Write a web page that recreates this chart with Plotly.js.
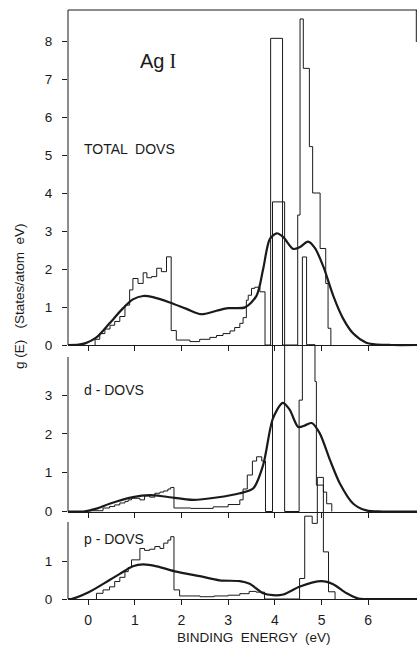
<!DOCTYPE html>
<html>
<head>
<meta charset="utf-8">
<script src="https://cdn.plot.ly/plotly-3.0.1.min.js"></script>
<style>
  html, body { margin: 0; padding: 0; background: #fff; }
  #chart { width: 419px; height: 645px; }
</style>
</head>
<body>
<div id="chart"></div>
<script>
// ---------------- DATA ----------------
const xTicks = [0, 1, 2, 3, 4, 5, 6];
const totalTicks = [0, 1, 2, 3, 4, 5, 6, 7, 8];
const dTicks = [0, 1, 2, 3];
const pTicks = [0, 1];

const compoundLabel = 'Ag<span style="font-family:Liberation Serif"> I</span>';
const panelLabels = ['TOTAL  DOVS', 'd - DOVS', 'p - DOVS'];
const xTitle = 'BINDING  ENERGY  (eV)';
const yTitle = 'g (E)   (States/atom  eV)';

// Histograms: bin left edges (eV) and bin values; last value 0 closes the histogram
const totalEdges = [0.15, 0.25, 0.36, 0.47, 0.57, 0.68, 0.79, 0.89, 0.96, 1.07, 1.18, 1.26, 1.36, 1.47, 1.57, 1.68,
  1.78, 1.89, 2.18, 2.39, 2.61, 2.75, 2.89, 3.04, 3.14, 3.25, 3.32, 3.39, 3.43, 3.5, 3.57, 3.68, 3.79,
  3.91, 4.165, 4.49, 4.54, 4.61, 4.74, 4.81, 4.97, 5.09, 5.14, 5.2];
const totalVals = [0.15, 0.3, 0.42, 0.52, 0.62, 0.75, 1.05, 1.45, 1.75, 1.62, 1.9, 1.77, 1.8, 2.02, 1.93, 2.32,
  0.38, 0.13, 0.09, 0.15, 0.2, 0.25, 0.3, 0.37, 0.46, 0.57, 0.72, 1.18, 1.31, 1.49, 1.52, 1.4, 0,
  8.07, 0, 3.42, 8.58, 7.28, 5.22, 4.0, 2.54, 1.62, 0.44, 0];

const dEdges = [0.04, 0.32, 0.46, 0.57, 0.68, 0.79, 0.86, 0.93, 1.11, 1.21, 1.32, 1.43, 1.54, 1.62, 1.71, 1.77,
  1.84, 2.2, 2.68, 3.0, 3.25, 3.32, 3.41, 3.52, 3.61, 3.72, 3.8,
  3.95, 4.21, 4.52, 4.59, 4.68, 4.86, 4.89, 5.04, 5.11, 5.22];
const dVals = [0.02, 0.09, 0.13, 0.17, 0.22, 0.26, 0.3, 0.34, 0.3, 0.4, 0.37, 0.47, 0.5, 0.53, 0.58, 0.62,
  0.09, 0.08, 0.12, 0.18, 0.3, 0.58, 0.94, 1.3, 1.41, 1.3, 0,
  7.98, 0, 2.87, 6.56, 4.3, 3.35, 0.68, 0.5, 0.2, 0];

const pEdges = [0.18, 0.32, 0.46, 0.57, 0.68, 0.79, 0.86, 0.93, 1.11, 1.21, 1.32, 1.43, 1.54, 1.62, 1.71, 1.77,
  1.84, 1.96, 2.4, 2.7, 3.0, 3.25, 3.45, 3.6, 3.78,
  4.53, 4.64, 4.8, 4.91, 5.04, 5.15, 5.29];
const pVals = [0.15, 0.24, 0.32, 0.46, 0.57, 0.72, 0.83, 1.03, 1.33, 1.28, 1.31, 1.38, 1.33, 1.47, 1.55, 1.64,
  0.24, 0.08, 0.06, 0.08, 0.1, 0.14, 0.2, 0.18, 0,
  0.54, 2.18, 1.99, 3.2, 1.24, 0.19, 0];

// Broadened (smooth) curves
const totalCurveE = [-0.43, -0.2, -0.05, 0.18, 0.46, 0.75, 0.96, 1.18, 1.39, 1.75, 2.11, 2.42, 2.75, 3.0, 3.36, 3.61,
  3.75, 3.89, 4.04, 4.18, 4.39, 4.54, 4.71, 4.86, 5.04, 5.25, 5.46, 5.68, 5.96, 6.2, 6.5, 7.05];
const totalCurveV = [0, 0.01, 0.05, 0.2, 0.57, 0.97, 1.2, 1.29, 1.26, 1.12, 0.95, 0.81, 0.9, 0.97, 0.99, 1.3,
  2.0, 2.78, 2.94, 2.84, 2.53, 2.58, 2.72, 2.55, 2.06, 1.3, 0.7, 0.3, 0.06, 0.01, 0, 0];

const dCurveE = [-0.43, -0.1, 0.2, 0.46, 0.96, 1.32, 1.68, 2.25, 2.75, 3.25, 3.54, 3.75, 3.96, 4.17, 4.32, 4.5,
  4.65, 4.79, 4.96, 5.18, 5.39, 5.68, 5.96, 6.3, 7.05];
const dCurveV = [0, 0, 0.08, 0.2, 0.37, 0.42, 0.38, 0.3, 0.36, 0.47, 0.6, 1.2, 2.4, 2.8, 2.62, 2.18,
  2.22, 2.28, 2.02, 1.33, 0.73, 0.2, 0.03, 0, 0];

const pCurveE = [-0.43, -0.36, 0, 0.46, 0.68, 0.96, 1.18, 1.47, 1.89, 2.39, 2.82, 3.25, 3.46, 3.75, 3.96, 4.18,
  4.54, 5.0, 5.25, 5.54, 5.79, 6.0, 7.05];
const pCurveV = [0, 0, 0.17, 0.5, 0.66, 0.86, 0.91, 0.86, 0.72, 0.6, 0.49, 0.47, 0.4, 0.15, 0.1, 0.12,
  0.33, 0.47, 0.39, 0.15, 0.01, 0, 0];

// ---------------- STYLE / LAYOUT ----------------
const ink = '#1a1a1a';
const fontFam = 'Liberation Sans, Arial, sans-serif';
const W = 419, H = 645;
const M = {l: 68, r: 2, t: 10, b: 46};
const plotH = H - M.t - M.b, plotW = W - M.l - M.r;
const py = p => (H - M.b - p) / plotH;      // pixel row -> paper y
const px = p => (p - M.l) / plotW;          // pixel col -> paper x
const xRange = [-0.43, 7.045];

function stepTrace(edges, vals, xa, ya) {
  return {
    x: [edges[0]].concat(edges), y: [0].concat(vals),
    xaxis: xa, yaxis: ya, mode: 'lines', type: 'scatter',
    line: {shape: 'hv', color: ink, width: 1}, hoverinfo: 'skip', showlegend: false
  };
}
function curveTrace(xs, ys, xa, ya) {
  return {
    x: xs, y: ys, xaxis: xa, yaxis: ya, mode: 'lines', type: 'scatter',
    line: {shape: 'spline', smoothing: 0.8, color: ink, width: 2.2}, hoverinfo: 'skip', showlegend: false
  };
}

const data = [
  stepTrace(pEdges, pVals, 'x', 'y'), curveTrace(pCurveE, pCurveV, 'x', 'y'),
  stepTrace(dEdges, dVals, 'x2', 'y2'), curveTrace(dCurveE, dCurveV, 'x2', 'y2'),
  stepTrace(totalEdges, totalVals, 'x3', 'y3'), curveTrace(totalCurveE, totalCurveV, 'x3', 'y3')
];

// panel geometry (pixel rows of the zero lines, px per unit)
const pZero = 599, pScale = 38;
const dZero = 511.5, dScale = 38.8;
const tZero = 345, tScale = 38;
const rangeFor = (zero, scale) => [-(H - M.b - zero) / scale, (zero - M.t) / scale];

const xCommon = {
  range: xRange, showgrid: false, zeroline: false, showline: true, linecolor: ink, linewidth: 1,
  ticks: 'outside', ticklen: 5, tickwidth: 1, tickcolor: ink, tickvals: xTicks, fixedrange: true
};
const yCommon = {
  showgrid: false, zeroline: false, showline: false, ticks: 'outside', ticklen: 5, tickwidth: 1,
  tickcolor: ink, ticklabelstandoff: 7, tickfont: {family: fontFam, size: 13.5, color: ink}, fixedrange: true
};

const layout = {
  width: W, height: H, margin: M,
  paper_bgcolor: '#fff', plot_bgcolor: 'rgba(0,0,0,0)', showlegend: false,
  font: {family: fontFam, color: ink, size: 13},
  xaxis: Object.assign({}, xCommon, {anchor: 'y', showticklabels: true, ticklabelstandoff: 3,
    tickfont: {family: fontFam, size: 14, color: ink}}),
  xaxis2: Object.assign({}, xCommon, {overlaying: 'x', anchor: 'free', position: py(dZero), showticklabels: false}),
  xaxis3: Object.assign({}, xCommon, {overlaying: 'x', anchor: 'free', position: py(tZero), showticklabels: false}),
  yaxis: Object.assign({}, yCommon, {range: rangeFor(pZero, pScale), tickvals: pTicks, anchor: 'x'}),
  yaxis2: Object.assign({}, yCommon, {range: rangeFor(dZero, dScale), tickvals: dTicks, overlaying: 'y', anchor: 'x', side: 'left'}),
  yaxis3: Object.assign({}, yCommon, {range: rangeFor(tZero, tScale), tickvals: totalTicks, overlaying: 'y', anchor: 'x', side: 'left'}),
  shapes: [
    // left axis lines of the three panels
    {type: 'line', xref: 'paper', yref: 'y3', x0: 0, x1: 0, y0: 0, y1: (tZero - M.t) / tScale, line: {color: ink, width: 1}},
    {type: 'line', xref: 'paper', yref: 'y2', x0: 0, x1: 0, y0: 0, y1: (dZero - 357) / dScale, line: {color: ink, width: 1}},
    {type: 'line', xref: 'paper', yref: 'y', x0: 0, x1: 0, y0: 0, y1: (pZero - 522) / pScale, line: {color: ink, width: 1}},
    // top frame of the upper panel and short right edge
    {type: 'line', xref: 'paper', yref: 'paper', x0: 0, x1: 1, y0: 1, y1: 1, line: {color: ink, width: 1}},
    {type: 'line', xref: 'paper', yref: 'paper', x0: 0.998, x1: 0.998, y0: 1, y1: py(42), line: {color: ink, width: 1}}
  ],
  annotations: [
    {text: compoundLabel, xref: 'paper', yref: 'paper', x: px(138), y: py(61), xanchor: 'left', yanchor: 'middle',
      showarrow: false, font: {family: fontFam, size: 20, color: ink}},
    {text: panelLabels[0], xref: 'paper', yref: 'paper', x: px(82), y: py(149), xanchor: 'left', yanchor: 'middle',
      showarrow: false, font: {family: fontFam, size: 14, color: ink}},
    {text: panelLabels[1], xref: 'paper', yref: 'paper', x: px(82), y: py(390), xanchor: 'left', yanchor: 'middle',
      showarrow: false, font: {family: fontFam, size: 14, color: ink}},
    {text: panelLabels[2], xref: 'paper', yref: 'paper', x: px(82), y: py(539), xanchor: 'left', yanchor: 'middle',
      showarrow: false, font: {family: fontFam, size: 14, color: ink}},
    {text: xTitle, xref: 'paper', yref: 'paper', x: px(254), y: py(637), xanchor: 'center', yanchor: 'middle',
      showarrow: false, font: {family: fontFam, size: 13.5, color: ink}},
    {text: yTitle, xref: 'paper', yref: 'paper', x: px(19), y: py(296), xanchor: 'center', yanchor: 'middle',
      textangle: -90, showarrow: false, font: {family: fontFam, size: 13.5, color: ink}}
  ]
};

Plotly.newPlot('chart', data, layout, {staticPlot: true, displayModeBar: false});
</script>
</body>
</html>
